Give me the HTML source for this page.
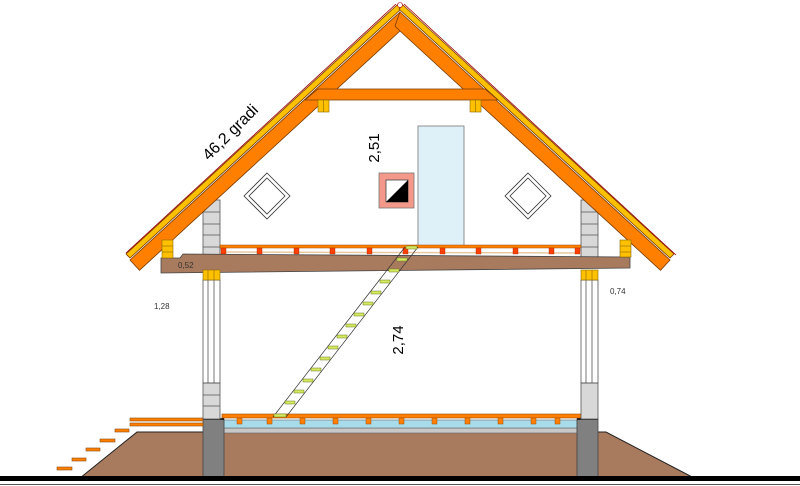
<!DOCTYPE html>
<html><head><meta charset="utf-8"><style>html,body{margin:0;padding:0;background:#fff}svg{display:block}</style></head>
<body>
<svg width="800" height="486" viewBox="0 0 800 486" xmlns="http://www.w3.org/2000/svg" font-family="Liberation Sans, sans-serif">
<polygon points="80,478 137,432 606,432 694,478" fill="#a87a5e" stroke="#222" stroke-width="1"/>
<rect x="224" y="428" width="353" height="5" fill="#c8c8c8" stroke="#666" stroke-width="0.6"/>
<rect x="224" y="420" width="353" height="8" fill="#a8dcea" stroke="#666" stroke-width="0.6"/>
<rect x="222" y="414" width="359" height="4" fill="#ff8000" stroke="#9a4a00" stroke-width="0.6"/>
<g fill="#ff8000" stroke="#9a4a00" stroke-width="0.5">
<rect x="237" y="418" width="5" height="6"/><rect x="267" y="418" width="5" height="6"/><rect x="300" y="418" width="5" height="6"/><rect x="333" y="418" width="5" height="6"/><rect x="366" y="418" width="5" height="6"/><rect x="399" y="418" width="5" height="6"/><rect x="432" y="418" width="5" height="6"/><rect x="465" y="418" width="5" height="6"/><rect x="498" y="418" width="5" height="6"/><rect x="531" y="418" width="5" height="6"/><rect x="555" y="418" width="5" height="6"/>
</g>
<rect x="203" y="419" width="21" height="59" fill="#808080" stroke="#444" stroke-width="0.8"/>
<rect x="577" y="419" width="21" height="59" fill="#808080" stroke="#444" stroke-width="0.8"/>
<line x1="203" y1="419" x2="224" y2="419" stroke="#000" stroke-width="1.5"/>
<line x1="577" y1="419" x2="598" y2="419" stroke="#000" stroke-width="1.5"/>
<rect x="0" y="476" width="800" height="5" fill="#000"/>
<line x1="0" y1="484.5" x2="800" y2="484.5" stroke="#555" stroke-width="1"/>
<g fill="#ff8000" stroke="#8a4a10" stroke-width="0.6">
<rect x="57" y="467" width="15" height="3"/><rect x="72" y="458" width="14" height="3"/><rect x="86" y="448" width="14" height="3"/><rect x="100" y="439" width="15" height="3"/><rect x="115" y="429" width="14" height="3"/>
<rect x="130" y="418" width="73" height="3"/><rect x="130" y="423" width="73" height="3"/>
</g>
<g stroke="#555" stroke-width="0.8" fill="#d8d8d8">
<rect x="203" y="200" width="17" height="58"/>
<rect x="203" y="383" width="17" height="36"/>
<rect x="581" y="200" width="17" height="58"/>
<rect x="581" y="383" width="17" height="36"/>
</g>
<g stroke="#555" stroke-width="0.8" fill="none">
<line x1="203" y1="212" x2="220" y2="212"/><line x1="203" y1="224" x2="220" y2="224"/><line x1="203" y1="235" x2="220" y2="235"/><line x1="203" y1="247" x2="220" y2="247"/>
<line x1="203" y1="395" x2="220" y2="395"/><line x1="203" y1="406" x2="220" y2="406"/>
<line x1="581" y1="212" x2="598" y2="212"/><line x1="581" y1="224" x2="598" y2="224"/><line x1="581" y1="235" x2="598" y2="235"/><line x1="581" y1="247" x2="598" y2="247"/>
<rect x="203" y="280" width="17" height="103"/><line x1="208" y1="280" x2="208" y2="383"/><line x1="214" y1="280" x2="214" y2="383"/>
<rect x="581" y="280" width="17" height="103"/><line x1="586" y1="280" x2="586" y2="383"/><line x1="592" y1="280" x2="592" y2="383"/>
</g>
<rect x="418" y="126" width="46" height="121" fill="#dff1f8" stroke="#777" stroke-width="0.8"/>
<rect x="379" y="173" width="35" height="35" fill="#f4998a" stroke="#777" stroke-width="0.8"/>
<rect x="386" y="180" width="22" height="22" fill="#fff" stroke="#444" stroke-width="0.8"/>
<polygon points="408,180 408,202 386,202" fill="#000"/>
<g fill="none" stroke="#333" stroke-width="0.8">
<polygon points="267,173 290,196 267,219 244,196"/><polygon points="267,178 285,196 267,214 249,196"/>
<polygon points="528,173 551,196 528,219 505,196"/><polygon points="528,178 546,196 528,214 510,196"/>
</g>
<g stroke="#7a3a00" stroke-width="0.8">
<polygon points="400,12 130,260 139.5,270.3 400,31 405,26" fill="#ff8000"/>
<polygon points="400,12 670,260 660.5,270.3 400,31 395,26" fill="#ff8000"/>
<polygon points="397,5 401,9 130,258 126,254" fill="#ffc000"/>
<polygon points="403,5 399,9 670,258 674,254" fill="#ffc000"/>
<polygon points="318,89 485,89 498,100 305,100" fill="#ff8000"/>
</g>
<line x1="396" y1="4" x2="126" y2="253" stroke="#a00000" stroke-width="0.8"/>
<line x1="404" y1="4" x2="676" y2="255" stroke="#a00000" stroke-width="0.8"/>
<circle cx="400" cy="5" r="2.5" fill="#fff" stroke="#a00" stroke-width="0.6"/>
<polygon points="161,258 180,258 183,254 630,257 630,268 161,273" fill="#a87a5e" stroke="#444" stroke-width="0.8"/>
<line x1="220" y1="252" x2="581" y2="253" stroke="#e8c8a0" stroke-width="1.5"/>
<rect x="220" y="245" width="361" height="3" fill="#ff8000" stroke="#9a4a00" stroke-width="0.5"/>
<g fill="#ff4000" stroke="#9a2a00" stroke-width="0.4">
<rect x="221" y="248" width="5" height="6"/><rect x="257" y="248" width="5" height="6"/><rect x="294" y="248" width="5" height="6"/><rect x="330" y="248" width="5" height="6"/><rect x="367" y="248" width="5" height="6"/><rect x="403" y="248" width="5" height="6"/><rect x="440" y="248" width="5" height="6"/><rect x="476" y="248" width="5" height="6"/><rect x="513" y="248" width="5" height="6"/><rect x="549" y="248" width="5" height="6"/><rect x="575" y="248" width="5" height="6"/>
</g>
<g fill="#ffc000" stroke="#8a6a00" stroke-width="0.6">
<rect x="203" y="270" width="17" height="10"/><line x1="208" y1="270" x2="208" y2="280"/><line x1="214" y1="270" x2="214" y2="280"/>
<rect x="581" y="270" width="17" height="10"/><line x1="586" y1="270" x2="586" y2="280"/><line x1="592" y1="270" x2="592" y2="280"/>
<rect x="162" y="240" width="11" height="18"/><line x1="162" y1="246" x2="173" y2="246"/><line x1="162" y1="252" x2="173" y2="252"/>
<rect x="620" y="240" width="11" height="17"/><line x1="620" y1="246" x2="631" y2="246"/><line x1="620" y1="252" x2="631" y2="252"/>
<rect x="318" y="100" width="11" height="12"/><line x1="323.5" y1="100" x2="323.5" y2="112"/>
<rect x="470" y="100" width="11" height="12"/><line x1="475.5" y1="100" x2="475.5" y2="112"/>
</g>
<g stroke="#333" stroke-width="0.7">
<line x1="405" y1="247" x2="273" y2="417"/><line x1="418" y1="247" x2="286" y2="417"/>
</g>
<g fill="#d4e860" stroke="#6a7a20" stroke-width="0.5">
<rect x="406" y="246" width="11" height="3"/><rect x="397" y="258" width="10" height="3"/><rect x="389" y="269" width="10" height="3"/><rect x="380" y="280" width="10" height="3"/><rect x="371" y="291" width="10" height="3"/><rect x="363" y="302" width="10" height="3"/><rect x="354" y="313" width="10" height="3"/><rect x="346" y="324" width="10" height="3"/><rect x="337" y="335" width="10" height="3"/><rect x="328" y="346" width="10" height="3"/><rect x="320" y="357" width="10" height="3"/><rect x="311" y="368" width="10" height="3"/><rect x="303" y="379" width="10" height="3"/><rect x="294" y="390" width="10" height="3"/><rect x="285" y="401" width="10" height="3"/><rect x="274" y="414" width="12" height="3"/>
</g>
<text x="0" y="0" font-size="16" transform="translate(234,136) rotate(-45)" text-anchor="middle" fill="#000">46,2 gradi</text>
<text x="0" y="0" font-size="15" transform="translate(379,148) rotate(-90)" text-anchor="middle" fill="#000">2,51</text>
<text x="0" y="0" font-size="15" transform="translate(403,340) rotate(-90)" text-anchor="middle" fill="#000">2,74</text>
<text x="178" y="268" font-size="8" fill="#333">0,52</text>
<text x="154" y="309" font-size="8" fill="#333">1,28</text>
<text x="610" y="294" font-size="8" fill="#333">0,74</text>
</svg>
</body></html>
